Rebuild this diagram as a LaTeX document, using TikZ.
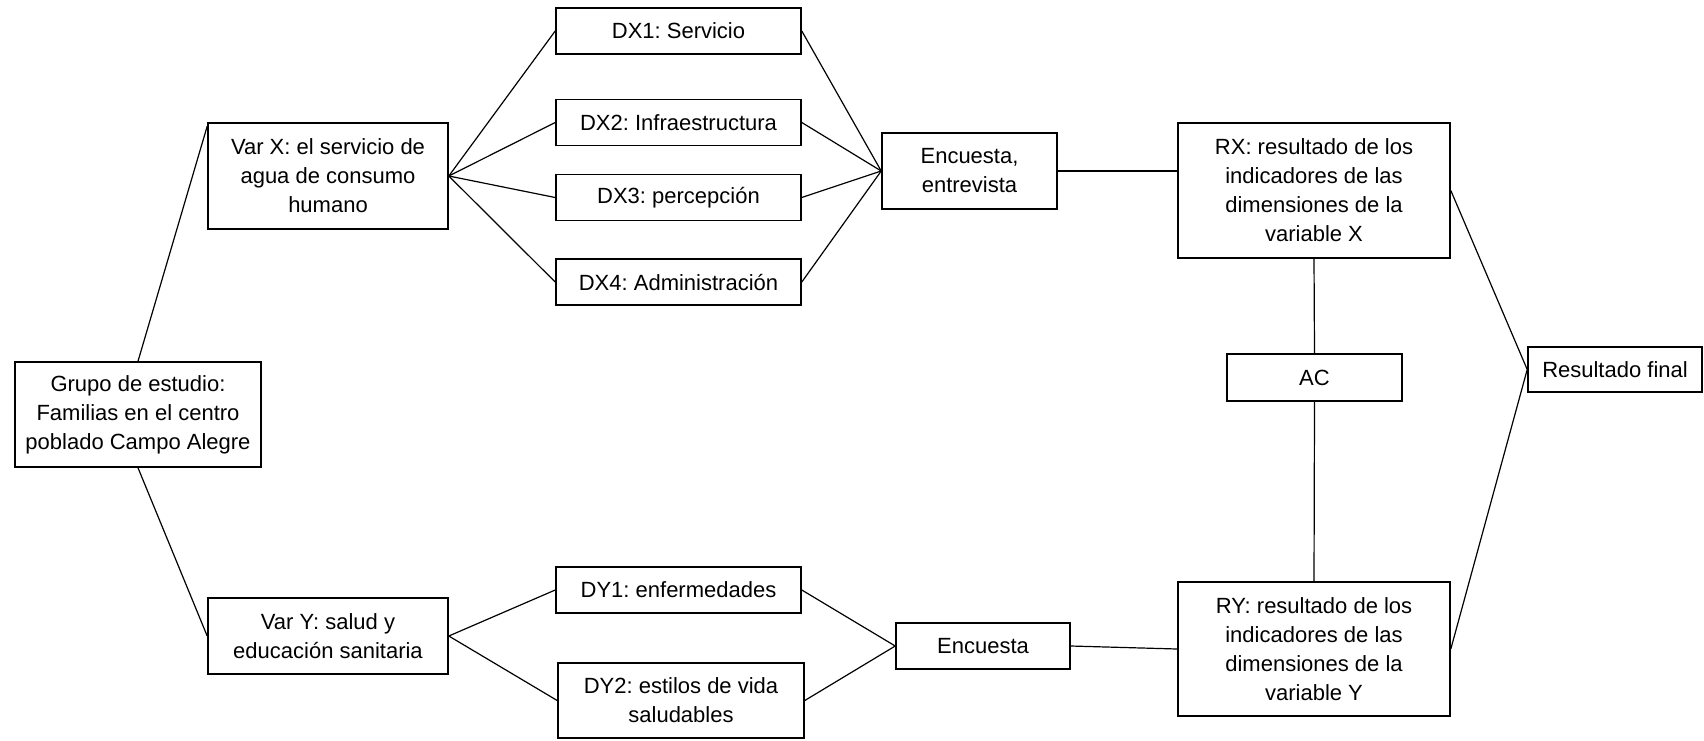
\documentclass[tikz,border=0pt]{standalone}
\usepackage{fontspec}
\setmainfont{Liberation Sans}
\usetikzlibrary{positioning,calc}

\begin{document}
\begin{tikzpicture}[x=1pt,y=-1pt,
	caja/.style={draw,line width=1.6pt,align=center,inner sep=0pt,font=\fontsize{22}{29}\selectfont\frenchspacing},
	linea/.style={line width=1.2pt}]
	\useasboundingbox (0,0) rectangle (1704,740);

	\node[caja,minimum width=246pt,minimum height=105pt] (grupo) at (138,414.5) {Grupo de estudio:\\Familias en el centro\\poblado Campo Alegre};
	\node[caja,minimum width=240pt,minimum height=106pt] (varx) at (328,176) {Var X: el servicio de\\agua de consumo\\humano};
	\node[caja,minimum width=240pt,minimum height=76pt] (vary) at (328,636) {Var Y: salud y\\educación sanitaria};

	\node[caja,minimum width=175pt,minimum height=76pt] (enc1) at (969.5,171) {Encuesta,\\entrevista};
	\node[caja,minimum width=174pt,minimum height=46pt] (enc2) at (983,646) {Encuesta};

	\foreach \yy/\t [count=\n] in
		{31/DX1: Servicio,122.5/DX2: Infraestructura,197.5/DX3: percepción,282/DX4: Administración}
		{
		\node[caja,minimum width=245pt,minimum height=46pt] (dx\n) at (678.5,\yy) {\t};
		\path[linea]
			(varx.east) edge (dx\n.west)
			(dx\n.east) edge (enc1.west);
		}

	\node[caja,minimum width=245pt,minimum height=46pt] (dy1) at (678.5,590) {DY1: enfermedades};
	\node[caja,minimum width=246pt,minimum height=75pt] (dy2) at (681,700.5) {DY2: estilos de vida\\saludables};

	\node[caja,minimum width=272pt,minimum height=135pt] (rx) at (1314,190.5) {RX: resultado de los\\indicadores de las\\dimensiones de la\\variable X};
	\node[caja,minimum width=175pt,minimum height=47pt] (ac) at (1314.5,377.5) {AC};
	\node[caja,minimum width=272pt,minimum height=134pt] (ry) at (1314,649) {RY: resultado de los\\indicadores de las\\dimensiones de la\\variable Y};
	\node[caja,minimum width=174pt,minimum height=45pt] (final) at (1615,369.5) {Resultado final};

	\path[linea]
		(grupo.north) edge ($(varx.north west)+(0,4)$)
		(grupo.south) edge (vary.west)
		(vary.east) edge (dy1.west)
		(vary.east) edge (dy2.west)
		(dy1.east) edge (enc2.west)
		(dy2.east) edge (enc2.west)
		(enc1.east) edge (enc1.east -| rx.west)
		(enc2.east) edge (ry.west)
		(rx.south) edge (ac.north)
		(ac.south) edge (ry.north)
		(rx.east) edge (final.west)
		(ry.east) edge (final.west);
\end{tikzpicture}
\end{document}
